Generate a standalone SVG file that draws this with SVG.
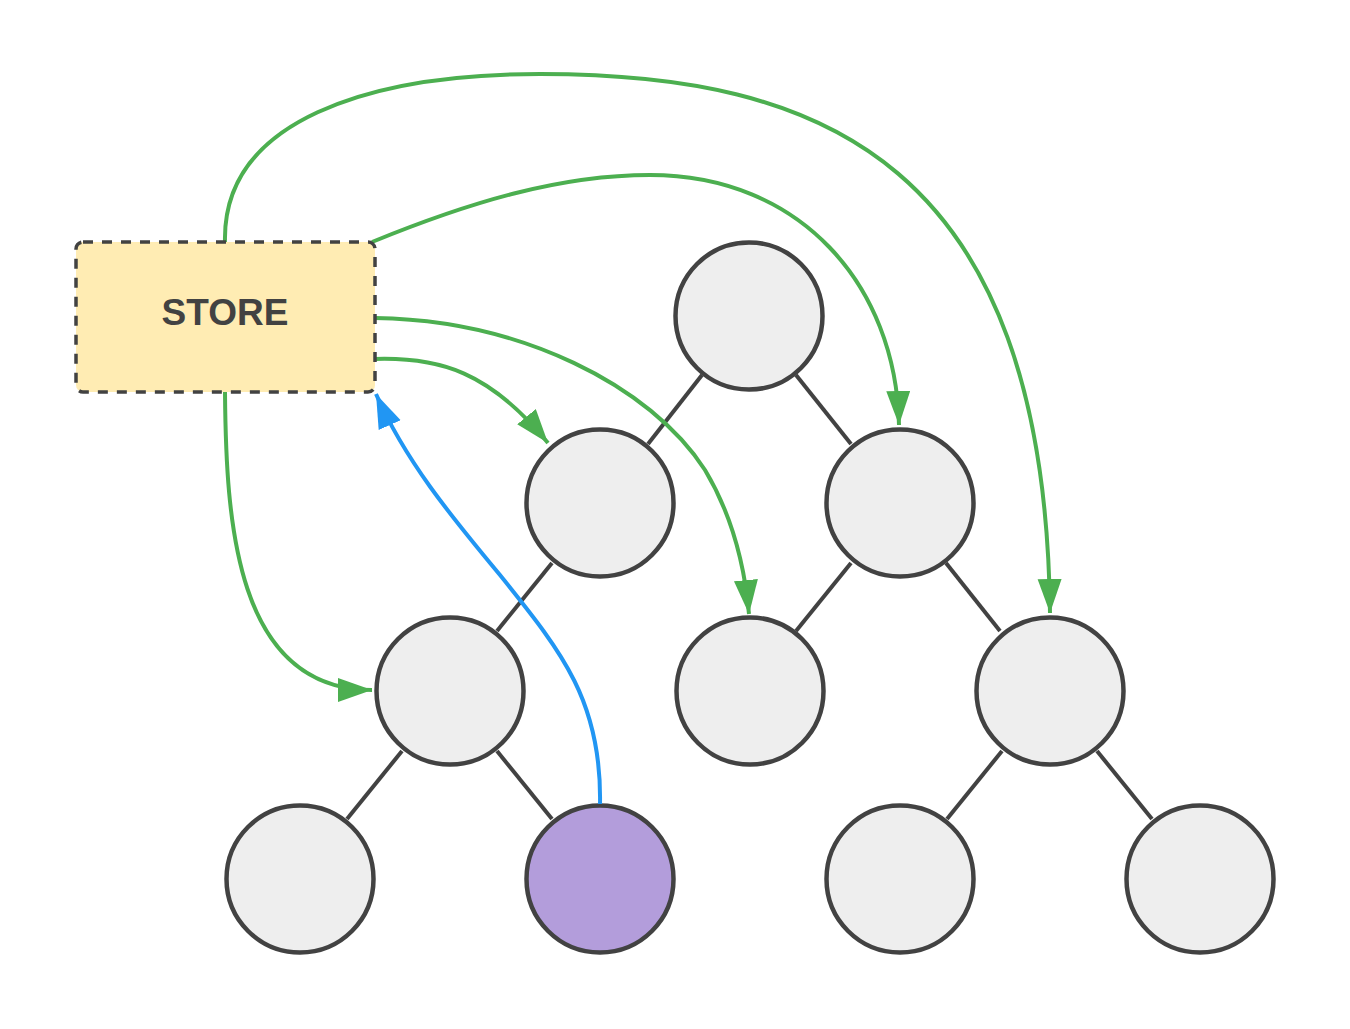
<svg xmlns="http://www.w3.org/2000/svg" width="1350" height="1029" viewBox="0 0 1350 1029">
<style>
.node{fill:#eeeeee;stroke:#424242;stroke-width:4.5}
.sel{fill:#b39ddb}
.edge{stroke:#424242;stroke-width:4;fill:none}
.g{stroke:#4caf50;stroke-width:4;fill:none;marker-end:url(#ag)}
.b{stroke:#2196f3;stroke-width:4;fill:none;marker-end:url(#ab)}
.lbl{font-family:"Liberation Sans",Arial,sans-serif;font-weight:bold;font-size:37px;fill:#424242;text-anchor:middle}
</style>
<defs>
<marker id="ag" markerUnits="userSpaceOnUse" markerWidth="36" markerHeight="26" refX="34" refY="12" orient="auto" viewBox="0 0 36 26">
<path d="M0,0 L34,12 L0,24 z" fill="#4caf50"/>
</marker>
<marker id="ab" markerUnits="userSpaceOnUse" markerWidth="36" markerHeight="26" refX="34" refY="12" orient="auto" viewBox="0 0 36 26">
<path d="M0,0 L34,12 L0,24 z" fill="#2196f3"/>
</marker>
</defs>
<rect width="1350" height="1029" fill="#ffffff"/>
<g id="tree-edges">
<line class="edge" x1="702" y1="375" x2="648" y2="444"/>
<line class="edge" x1="796" y1="375" x2="851" y2="444"/>
<line class="edge" x1="552" y1="563" x2="497" y2="631"/>
<line class="edge" x1="851" y1="563" x2="796" y2="631"/>
<line class="edge" x1="946" y1="563" x2="1000" y2="631"/>
<line class="edge" x1="402" y1="751" x2="347" y2="819"/>
<line class="edge" x1="497" y1="751" x2="552" y2="819"/>
<line class="edge" x1="1002" y1="751" x2="947" y2="819"/>
<line class="edge" x1="1097" y1="751" x2="1152" y2="819"/>
</g>
<g id="n-root"><circle class="node" cx="749" cy="316" r="73.5"/></g>
<g id="n-l1a"><circle class="node" cx="600" cy="503" r="73.5"/></g>
<g id="n-l1b"><circle class="node" cx="900" cy="503" r="73.5"/></g>
<g id="n-l2a"><circle class="node" cx="450" cy="691" r="73.5"/></g>
<g id="n-l2b"><circle class="node" cx="750" cy="691" r="73.5"/></g>
<g id="n-l2c"><circle class="node" cx="1050" cy="691" r="73.5"/></g>
<g id="n-l3a"><circle class="node" cx="300" cy="879" r="73.5"/></g>
<g id="n-l3b"><circle class="node sel" cx="600" cy="879" r="73.5"/></g>
<g id="n-l3c"><circle class="node" cx="900" cy="879" r="73.5"/></g>
<g id="n-l3d"><circle class="node" cx="1200" cy="879" r="73.5"/></g>
<g id="connectors">
<path class="g" d="M225,242 C222,120 370,74 540,74 C820,74 1045,160 1050,613"/>
<path class="g" d="M372,242 C470,202 560,175 650,175 C800,175 896,285 899,425"/>
<path class="g" d="M375,318 C520,320 650,385 705,470 C735,520 745,570 749,614"/>
<path class="g" d="M375,359 C440,357 490,372 548,443"/>
<path class="g" d="M225,392 C226,520 235,690 372,690"/>
<path class="b" d="M600,804 C602,700 560,650 500,575 C450,515 405,460 376,394"/>
</g>
<g id="store">
<rect x="76" y="242" width="299" height="150" rx="7" fill="#ffecb3" stroke="#424242" stroke-width="3.5" stroke-dasharray="10,9"/>
<text class="lbl" x="225" y="325">STORE</text>
</g>
</svg>
